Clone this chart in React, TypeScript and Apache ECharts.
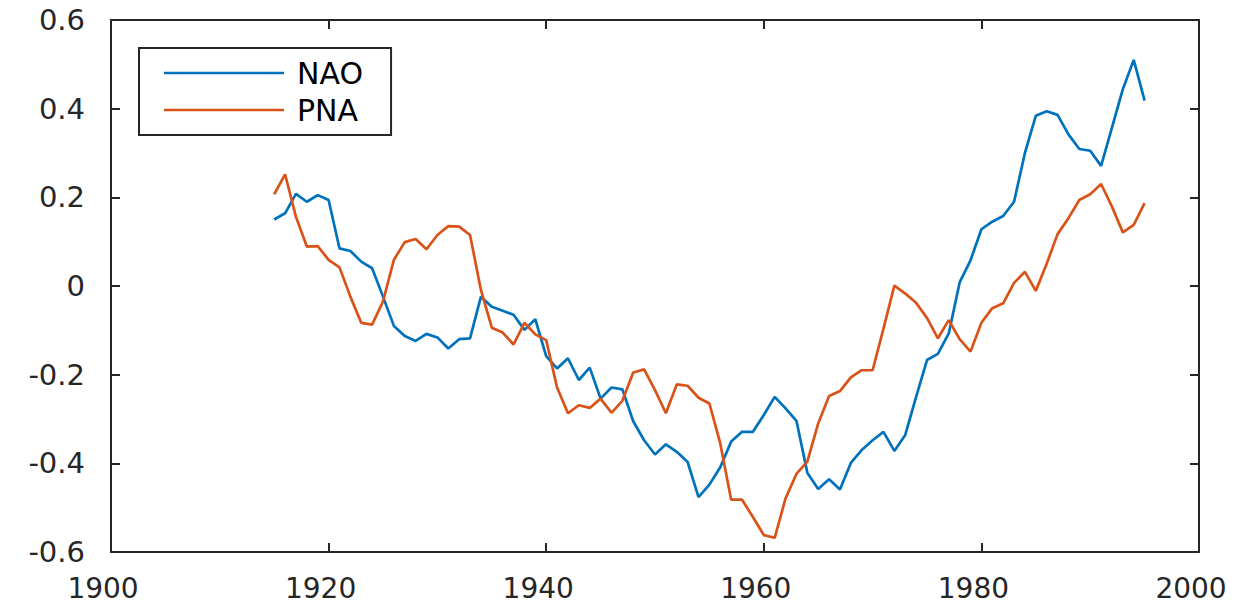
import React, { useEffect, useRef } from "react";
import * as echarts from "echarts";

const years: number[] = Array.from({ length: 81 }, (_, i) => 1915 + i);

const nao: number[] = [
  0.150, 0.164, 0.208, 0.190, 0.205, 0.194, 0.085, 0.079, 0.055, 0.040,
  -0.024, -0.090, -0.113, -0.124, -0.108, -0.116, -0.141, -0.120, -0.118, -0.024,
  -0.047, -0.056, -0.065, -0.099, -0.075, -0.158, -0.186, -0.163, -0.212, -0.184,
  -0.254, -0.229, -0.233, -0.305, -0.348, -0.380, -0.357, -0.374, -0.397, -0.476,
  -0.448, -0.409, -0.351, -0.329, -0.329, -0.291, -0.250, -0.276, -0.304, -0.421,
  -0.458, -0.436, -0.459, -0.399, -0.370, -0.348, -0.329, -0.372, -0.336, -0.250,
  -0.167, -0.153, -0.107, 0.008, 0.058, 0.128, 0.145, 0.158, 0.190, 0.300,
  0.384, 0.394, 0.386, 0.342, 0.309, 0.305, 0.271, 0.357, 0.444, 0.510,
  0.418,
];

const pna: number[] = [
  0.207, 0.252, 0.156, 0.089, 0.090, 0.059, 0.042, -0.024, -0.083, -0.087,
  -0.035, 0.059, 0.099, 0.106, 0.083, 0.115, 0.135, 0.134, 0.115, -0.009,
  -0.094, -0.105, -0.132, -0.083, -0.109, -0.122, -0.229, -0.287, -0.269, -0.275,
  -0.254, -0.286, -0.259, -0.195, -0.188, -0.235, -0.287, -0.222, -0.225, -0.252,
  -0.265, -0.355, -0.482, -0.482, -0.521, -0.562, -0.568, -0.479, -0.424, -0.396,
  -0.310, -0.248, -0.237, -0.206, -0.190, -0.190, -0.096, 0.001, -0.017, -0.038,
  -0.072, -0.118, -0.077, -0.120, -0.148, -0.083, -0.050, -0.039, 0.007, 0.032,
  -0.011, 0.050, 0.117, 0.153, 0.194, 0.207, 0.230, 0.179, 0.121, 0.138,
  0.187,
];

const seriesNames: string[] = ["NAO", "PNA"];
const seriesColors: string[] = ["#0072BD", "#D95319"];

const FONT = "'DejaVu Sans', 'Liberation Sans', Arial, sans-serif";
const AX = "#262626";

export default function App() {
  const ref = useRef<HTMLDivElement>(null);
  useEffect(() => {
    if (!ref.current) return;
    const chart = echarts.init(ref.current, undefined, { renderer: "svg" });
    const axisCommon = {
      axisLine: { show: true, onZero: false, lineStyle: { color: AX, width: 2 } },
      axisTick: { show: true, inside: true, length: 9, lineStyle: { color: AX, width: 2 } },
      splitLine: { show: false },
    };
    chart.setOption({
      animation: false,
      backgroundColor: "#ffffff",
      grid: { left: 111, right: 36, top: 20, bottom: 51, containLabel: false },
      legend: {
        show: true,
        orient: "vertical",
        left: 139,
        top: 48,
        data: seriesNames,
        icon: "rect",
        itemWidth: 120,
        itemHeight: 2.5,
        itemGap: 7,
        padding: [10, 28, 10, 25],
        borderColor: AX,
        borderWidth: 2,
        textStyle: { fontFamily: FONT, fontSize: 30, color: "#000", padding: [0, 0, 0, 8] },
      },
      xAxis: [
        {
          type: "value",
          min: 1900,
          max: 2000,
          interval: 20,
          position: "bottom",
          ...axisCommon,
          axisLabel: {
            show: true,
            margin: 22,
            fontFamily: FONT,
            fontSize: 28,
            color: AX,
            padding: [0, 16, 0, 0],
            formatter: (v: number) => String(v),
          },
        },
        {
          type: "value",
          min: 1900,
          max: 2000,
          interval: 20,
          position: "top",
          ...axisCommon,
          axisLabel: { show: false },
        },
      ],
      yAxis: [
        {
          type: "value",
          min: -0.6,
          max: 0.6,
          interval: 0.2,
          position: "left",
          ...axisCommon,
          axisLabel: {
            show: true,
            margin: 26,
            fontFamily: FONT,
            fontSize: 29,
            color: AX,
            formatter: (v: number) => {
              const r = Math.round(v * 10) / 10;
              return r === 0 ? "0" : r.toFixed(1);
            },
          },
        },
        {
          type: "value",
          min: -0.6,
          max: 0.6,
          interval: 0.2,
          position: "right",
          ...axisCommon,
          axisLabel: { show: false },
        },
      ],
      series: [
        {
          name: seriesNames[0],
          type: "line",
          data: years.map((y, i) => [y, nao[i]]),
          showSymbol: false,
          symbol: "none",
          color: seriesColors[0],
          lineStyle: { color: seriesColors[0], width: 2.7 },
        },
        {
          name: seriesNames[1],
          type: "line",
          data: years.map((y, i) => [y, pna[i]]),
          showSymbol: false,
          symbol: "none",
          color: seriesColors[1],
          lineStyle: { color: seriesColors[1], width: 2.7 },
        },
      ],
    });
    return () => chart.dispose();
  }, []);
  return (
    <div
      ref={ref}
      style={{ position: "absolute", left: 0, top: 0, width: 1235, height: 603 }}
    />
  );
}
